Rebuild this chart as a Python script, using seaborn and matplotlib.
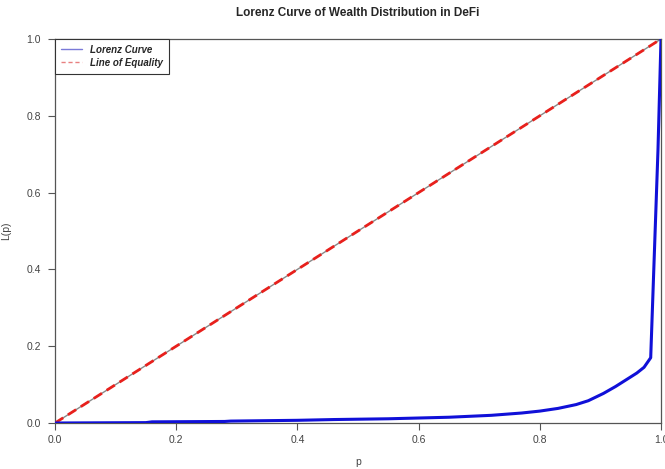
import matplotlib
matplotlib.use("Agg")
import matplotlib.pyplot as plt
import seaborn as sns
import pandas as pd

# Data
p_vals = [0, 0.15, 0.16, 0.28, 0.29, 0.40, 0.46, 0.55, 0.65, 0.72, 0.77, 0.80,
          0.83, 0.86, 0.88, 0.905, 0.925, 0.945, 0.96, 0.972, 0.983, 0.995, 1.0]
L_vals = [0, 0.001, 0.003, 0.004, 0.005, 0.007, 0.009, 0.011, 0.015, 0.020, 0.026, 0.031,
          0.038, 0.048, 0.058, 0.077, 0.095, 0.115, 0.130, 0.145, 0.17, 0.71, 1.0]
eq_p = [0.0, 1.0]
eq_L = [0.0, 1.0]
ticks = [0.0, 0.2, 0.4, 0.6, 0.8, 1.0]
tick_labels = ["0.0", "0.2", "0.4", "0.6", "0.8", "1.0"]

sns.set_style("ticks")
plt.rcParams['font.family'] = ['Liberation Sans', 'DejaVu Sans']

fig = plt.figure(figsize=(6.65, 4.69), dpi=100)
ax = fig.add_axes([55/665, 46/469, 606/665, 384/469])

curve = pd.DataFrame({"p": p_vals, "L": L_vals})
eq = pd.DataFrame({"p": eq_p, "L": eq_L})

sns.lineplot(data=eq, x="p", y="L", ax=ax, color="#888888", lw=1.0, zorder=2)
sns.lineplot(data=eq, x="p", y="L", ax=ax, color="#e8201c", lw=2.0,
             linestyle=(0, (3.5, 2)), zorder=3)
sns.lineplot(data=curve, x="p", y="L", ax=ax, color="#1010d8", lw=2.2, zorder=4)

ax.set_xlim(0, 1)
ax.set_ylim(0, 1)
ax.set_xticks(ticks)
ax.set_xticklabels(tick_labels)
ax.set_yticks(ticks)
ax.set_yticklabels(tick_labels)
for s in ax.spines.values():
    s.set_visible(True)
    s.set_color("#555555")
    s.set_linewidth(0.9)
ax.tick_params(direction="out", length=5, width=0.8, color="#555555",
               labelsize=7.5, labelcolor="#444444", pad=5)
ax.tick_params(axis="x", pad=3.5)
ax.set_xlabel("p", fontsize=7.5, color="#444444")
ax.set_ylabel("L(p)", fontsize=7.5, color="#444444")
ax.xaxis.set_label_coords(0.5, -0.088)
ax.yaxis.set_label_coords(-0.072, 0.5)
fig.suptitle("Lorenz Curve of Wealth Distribution in DeFi", fontsize=8.5,
             fontweight="bold", y=0.985, x=358/665)

from matplotlib.lines import Line2D
handles = [Line2D([0], [0], color="#7a7ad8", lw=1.0),
           Line2D([0], [0], color="#e88080", lw=1.0, linestyle=(0, (3, 2)))]
leg = ax.legend(handles, ["Lorenz Curve", "Line of Equality"], loc="upper left",
                bbox_to_anchor=(0, 1), borderaxespad=0, fancybox=False,
                framealpha=1, edgecolor="#333333", handlelength=2.2,
                prop={"size": 7, "weight": "bold", "style": "italic"},
                borderpad=0.6, labelspacing=0.3)
leg.get_frame().set_linewidth(0.8)

fig.savefig("out.png", dpi=100)
